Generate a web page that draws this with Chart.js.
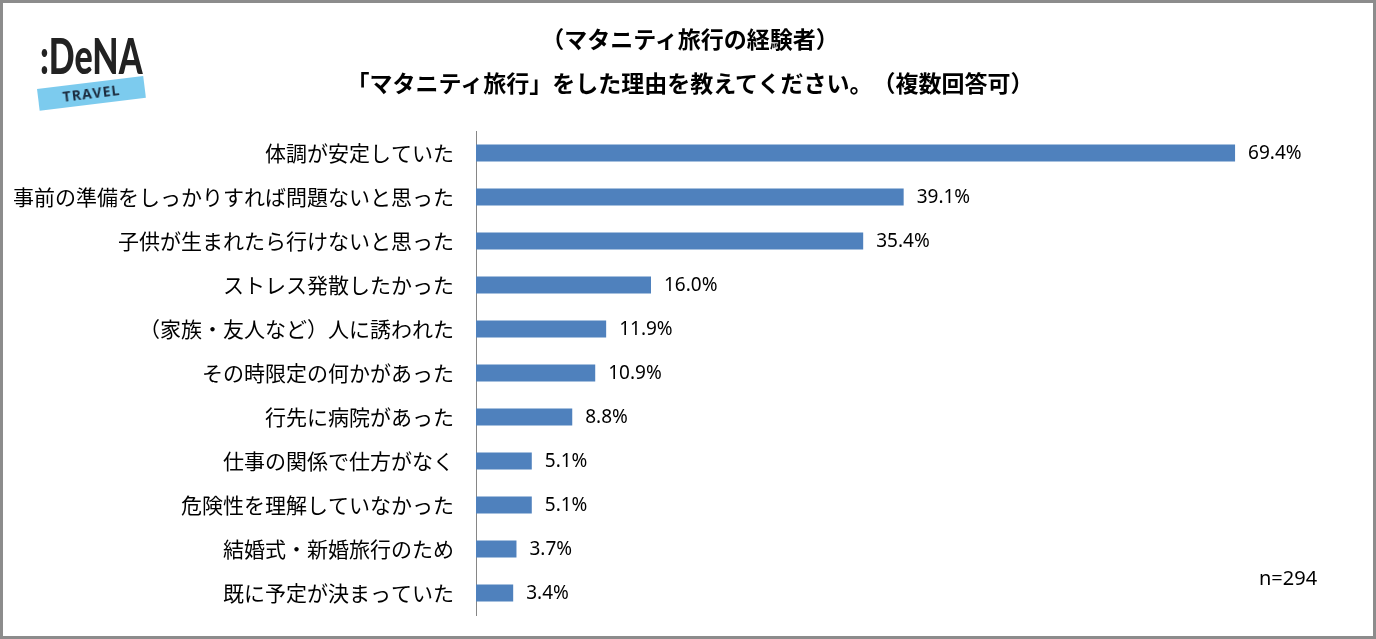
<!DOCTYPE html>
<html>
<head>
<meta charset="utf-8">
<script src="https://cdn.jsdelivr.net/npm/chart.js@4"></script>
<style>
  html, body { margin: 0; padding: 0; background: #fff; }
  #wrap { position: relative; width: 1376px; height: 639px; overflow: hidden; }
  #frame { position: absolute; left: 0; top: 0; width: 1376px; height: 639px;
           box-sizing: border-box; border: 3px solid #8c8c8c; pointer-events: none; }
  canvas { position: absolute; left: 0; top: 0; }
  .title { position: absolute; left: 0; width: 1380px; text-align: center;
           font-family: "Noto Sans CJK JP", sans-serif; font-weight: bold;
           font-size: 23px; line-height: 30px; color: #000; text-spacing-trim: space-all; }
  #n { position: absolute; left: 1259px; top: 564px; font-family: "Noto Sans", sans-serif;
       font-size: 20px; line-height: 28px; color: #000; }
  #logo { position: absolute; left: 36px; top: 26px; }
  #dena { position: absolute; left: 4px; top: 0; font-family: "Lato", "Open Sans", sans-serif;
          font-weight: 900; font-size: 50px; line-height: 58px; color: #222;
          transform: scaleX(0.68); transform-origin: left top; }
  #travel { position: absolute; left: 1px; top: 63px; width: 107px; height: 22px;
            background: #7ccbee; transform: rotate(-7deg); transform-origin: left top;
            text-align: center; font-family: "Open Sans", sans-serif; font-weight: bold;
            font-size: 14px; line-height: 22px; color: #1b2a3c; letter-spacing: 1px; }
</style>
</head>
<body>
<div id="wrap">
  <canvas id="barChart" width="1376" height="639"></canvas>
  <div class="title" style="top:23px;">（マタニティ旅行の経験者）</div>
  <div class="title" style="top:67px;">「マタニティ旅行」をした理由を教えてください。（複数回答可）</div>
  <div id="logo">
    <div id="dena">:DeNA</div>
    <div id="travel">TRAVEL</div>
  </div>
  <div id="n">n=294</div>
  <div id="frame"></div>
</div>
<script>
var categories = [
  '体調が安定していた',
  '事前の準備をしっかりすれば問題ないと思った',
  '子供が生まれたら行けないと思った',
  'ストレス発散したかった',
  '（家族・友人など）人に誘われた',
  'その時限定の何かがあった',
  '行先に病院があった',
  '仕事の関係で仕方がなく',
  '危険性を理解していなかった',
  '結婚式・新婚旅行のため',
  '既に予定が決まっていた'
];
var percentValues = [69.4, 39.1, 35.4, 16.0, 11.9, 10.9, 8.8, 5.1, 5.1, 3.7, 3.4];

// value labels at the end of each bar
var valueLabels = {
  id: 'valueLabels',
  afterDatasetsDraw: function(chart) {
    var ctx = chart.ctx;
    var meta = chart.getDatasetMeta(0);
    ctx.save();
    ctx.font = '19px "Noto Sans", sans-serif';
    ctx.fillStyle = '#000';
    ctx.textAlign = 'left';
    ctx.textBaseline = 'middle';
    meta.data.forEach(function(bar, i) {
      ctx.fillText(percentValues[i].toFixed(1) + '%', bar.x + 13, bar.y + 1);
    });
    ctx.restore();
  }
};

var ctxBar = document.getElementById('barChart');
new Chart(ctxBar, {
  type: 'bar',
  data: {
    labels: categories,
    datasets: [{
      data: percentValues,
      backgroundColor: '#4f81bd',
      barPercentage: 0.39,
      categoryPercentage: 1
    }]
  },
  options: {
    indexAxis: 'y',
    responsive: false,
    animation: false,
    layout: { padding: { top: 131, bottom: 24, right: 25, left: 0 } },
    plugins: {
      legend: { display: false },
      tooltip: { enabled: false }
    },
    scales: {
      x: { display: false, min: 0, max: 80 },
      y: {
        grid: { display: false },
        border: { display: true, color: '#868686', width: 1 },
        ticks: {
          color: '#000',
          padding: 14,
          font: { family: '"Noto Sans CJK JP", sans-serif', size: 21 }
        },
        afterFit: function(scale) {
          scale.width = 476;
          scale.paddingTop = 0;
          scale.paddingBottom = 0;
        }
      }
    }
  },
  plugins: [valueLabels]
});
</script>
</body>
</html>
